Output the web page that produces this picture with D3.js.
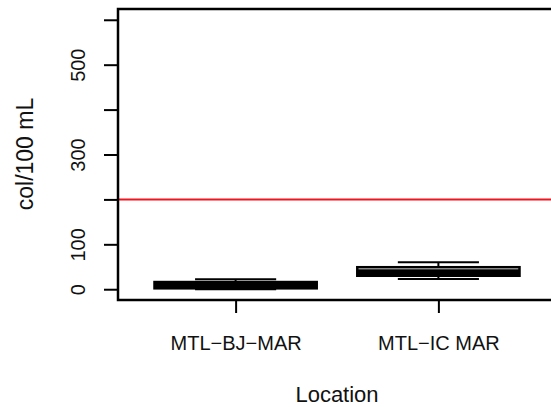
<!DOCTYPE html>
<html>
<head>
<meta charset="utf-8">
<script src="https://cdn.jsdelivr.net/npm/d3@7"></script>
<style>
  html, body { margin: 0; padding: 0; background: #fff; }
  svg { display: block; font-family: "Liberation Sans", Arial, Helvetica, sans-serif; }
</style>
</head>
<body>
<svg id="chart" width="551" height="407"></svg>
<script>
// Sampling locations and their five-number summaries (col/100 mL)
const locations = ["MTL\u2212BJ\u2212MAR", "MTL\u2212IC MAR"];
const whiskerLow = [0, 23];
const quartile1 = [2, 30];
const medians = [9, 38];
const quartile3 = [16, 49];
const whiskerHigh = [22, 60];

// Reference guideline
const threshold = 200;

// Axis ticks
const yTicks = [0, 100, 200, 300, 400, 500, 600];
const yTickLabels = ["0", "100", "", "300", "", "500", ""];

const svg = d3.select("#chart");

const x = d3.scaleLinear().domain([0.42, 2.58]).range([118, 556]);
const y = d3.scaleLinear().domain([-24, 624]).range([300, 9]);

const boxes = locations.map((name, i) => ({
  name, pos: i + 1,
  lo: whiskerLow[i], q1: quartile1[i], med: medians[i], q3: quartile3[i], hi: whiskerHigh[i]
}));

// Threshold line
svg.append("line")
  .attr("x1", x(0.42)).attr("x2", x(2.58))
  .attr("y1", y(threshold)).attr("y2", y(threshold))
  .attr("stroke", "#f0141e").attr("stroke-width", 2);

// Box plots
const g = svg.append("g").selectAll("g").data(boxes).join("g");

g.append("line") // upper whisker
  .attr("x1", d => x(d.pos)).attr("x2", d => x(d.pos))
  .attr("y1", d => y(d.q3)).attr("y2", d => y(d.hi))
  .attr("stroke", "#000").attr("stroke-width", 2).attr("stroke-dasharray", "6 6");
g.append("line") // lower whisker
  .attr("x1", d => x(d.pos)).attr("x2", d => x(d.pos))
  .attr("y1", d => y(d.q1)).attr("y2", d => y(d.lo))
  .attr("stroke", "#000").attr("stroke-width", 2).attr("stroke-dasharray", "6 6");
["hi", "lo"].forEach(k => {
  g.append("line")
    .attr("x1", d => x(d.pos - 0.2)).attr("x2", d => x(d.pos + 0.2))
    .attr("y1", d => y(d[k])).attr("y2", d => y(d[k]))
    .attr("stroke", "#000").attr("stroke-width", 2);
});
g.append("rect")
  .attr("x", d => x(d.pos - 0.4))
  .attr("width", d => x(d.pos + 0.4) - x(d.pos - 0.4))
  .attr("y", d => y(d.q3))
  .attr("height", d => y(d.q1) - y(d.q3))
  .attr("fill", "#fff").attr("stroke", "#000").attr("stroke-width", 2.5);
g.append("line") // median
  .attr("x1", d => x(d.pos - 0.4)).attr("x2", d => x(d.pos + 0.4))
  .attr("y1", d => y(d.med)).attr("y2", d => y(d.med))
  .attr("stroke", "#000").attr("stroke-width", 6);

// Plot frame
svg.append("rect")
  .attr("x", x(0.42)).attr("y", y(624))
  .attr("width", x(2.58) - x(0.42)).attr("height", y(-24) - y(624))
  .attr("fill", "none").attr("stroke", "#000").attr("stroke-width", 2.5);

// Y axis
const yAxis = svg.append("g")
  .attr("transform", `translate(${x(0.42)},0)`)
  .call(d3.axisLeft(y).tickValues(yTicks).tickSize(14)
    .tickFormat((d, i) => yTickLabels[i]));
yAxis.select(".domain").remove();
yAxis.selectAll(".tick line").attr("stroke-width", 2);
yAxis.selectAll(".tick text")
  .attr("x", 0).attr("dy", 0)
  .attr("transform", "translate(-33,0) rotate(-90)")
  .attr("text-anchor", "middle")
  .attr("font-size", 20).attr("fill", "#111")
  .attr("font-family", "Liberation Sans, Arial, sans-serif");

// X axis
const xAxis = svg.append("g")
  .attr("transform", `translate(0,${y(-24)})`)
  .call(d3.axisBottom(x).tickValues(boxes.map(d => d.pos)).tickSize(13)
    .tickFormat((d, i) => locations[i]));
xAxis.select(".domain").remove();
xAxis.selectAll(".tick line").attr("stroke-width", 2);
xAxis.selectAll(".tick text")
  .attr("y", 50).attr("dy", 0)
  .attr("font-size", 20).attr("fill", "#111")
  .attr("font-family", "Liberation Sans, Arial, sans-serif");

// Axis titles
svg.append("text")
  .attr("transform", "translate(33,154) rotate(-90)")
  .attr("text-anchor", "middle")
  .attr("font-size", 23).attr("fill", "#111")
  .text("col/100 mL");
svg.append("text")
  .attr("x", 337).attr("y", 402)
  .attr("text-anchor", "middle")
  .attr("font-size", 22).attr("fill", "#111")
  .text("Location");
</script>
</body>
</html>
